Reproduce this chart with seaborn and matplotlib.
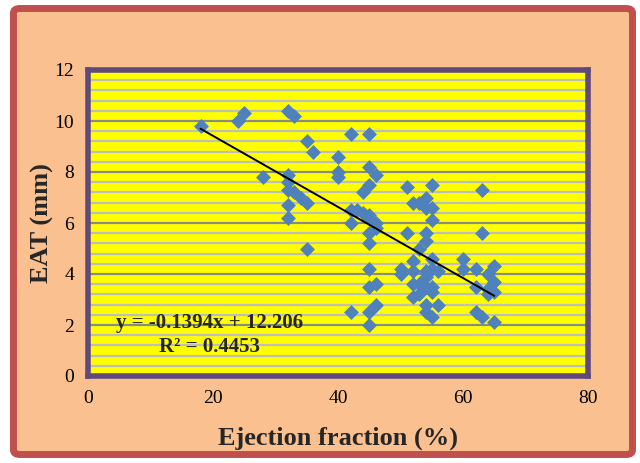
import numpy as np
import pandas as pd
import matplotlib
matplotlib.use("Agg")
import matplotlib.pyplot as plt
from matplotlib.patches import FancyBboxPatch
from matplotlib.ticker import MultipleLocator
import seaborn as sns

# values
ejection_fraction = [18, 24, 25, 28, 32, 33, 32, 32, 32, 33, 34, 35, 32, 32, 35, 36, 35,
                     40, 40, 40, 42, 45, 45, 46, 45, 44, 42, 43, 44, 42, 45, 45, 46, 46,
                     45, 45, 45, 45, 46, 46, 45, 45, 42, 51, 55, 63, 52, 53, 54, 54, 55,
                     55, 54, 51, 63, 54, 53, 60, 55, 52, 50, 50, 60, 62, 65, 64, 65, 52,
                     54, 55, 56, 54, 52, 53, 55, 52, 53, 55, 62, 64, 64, 65, 56, 54, 54,
                     55, 62, 63, 65, 54]
eat_mm = [9.8, 10.0, 10.3, 7.8, 10.4, 10.2, 7.9, 7.6, 7.3, 7.2, 7.0, 6.8, 6.7, 6.2, 9.2, 8.8, 5.0,
          8.6, 8.0, 7.8, 9.5, 9.5, 8.2, 7.9, 7.5, 7.2, 6.5, 6.5, 6.4, 6.0, 6.3, 6.2, 6.0, 5.8,
          5.6, 5.2, 4.2, 3.5, 3.6, 2.8, 2.5, 2.0, 2.5, 7.4, 7.5, 7.3, 6.8, 6.8, 7.0, 6.6, 6.6,
          6.1, 5.6, 5.6, 5.6, 5.3, 5.0, 4.6, 4.6, 4.5, 4.2, 4.0, 4.2, 4.2, 4.3, 4.0, 3.7, 4.1,
          4.1, 4.2, 4.1, 3.9, 3.6, 3.6, 3.5, 3.1, 3.2, 3.3, 3.5, 3.4, 3.2, 3.3, 2.8, 2.8, 2.5,
          2.3, 2.5, 2.3, 2.1, 3.5]

# trendline as printed on the chart
slope = -0.1394
intercept = 12.206
r_squared = 0.4453

x_ticks = [0, 20, 40, 60, 80]
y_ticks = [0, 2, 4, 6, 8, 10, 12]

df = pd.DataFrame({"EF": ejection_fraction, "EAT": eat_mm})

sns.set_style("white")
plt.rcParams["font.family"] = ["Liberation Serif", "DejaVu Serif"]

fig = plt.figure(figsize=(6.4, 4.63), dpi=100)
fig.patch.set_facecolor("white")

# outer rounded frame
frame = FancyBboxPatch((13.5 / 640, 8.5 / 463), 619 / 640, 446 / 463,
                       boxstyle="round,pad=0,rounding_size=0.01",
                       transform=fig.transFigure, facecolor="#FAC090",
                       edgecolor="#C0504D", linewidth=5, zorder=-1)
fig.patches.append(frame)

ax = fig.add_axes([88 / 640, 87 / 463, 500 / 640, 306 / 463])
ax.set_facecolor("#FFFF00")

sns.scatterplot(data=df, x="EF", y="EAT", marker="D", s=58, color="#4F81BD",
                linewidth=0, ax=ax, zorder=3)

xs = np.array([min(ejection_fraction), max(ejection_fraction)])
ax.plot(xs, slope * xs + intercept, color="black", linewidth=1.4, zorder=4)

ax.set_xlim(0, 80)
ax.set_ylim(0, 12)
ax.set_xticks(x_ticks)
ax.set_yticks(y_ticks)
ax.yaxis.set_minor_locator(MultipleLocator(0.4))
ax.grid(True, axis="y", which="minor", color="#BEBEBE", linewidth=1.6, zorder=1)
ax.grid(True, axis="y", which="major", color="#8A8A8A", linewidth=1.6, zorder=1)
ax.set_axisbelow(True)
ax.tick_params(axis="both", which="major", direction="out", length=4, width=1,
               color="#8A8A8A", labelsize=14, labelcolor="black", pad=6)
ax.tick_params(axis="both", which="minor", length=0)

for sp in ax.spines.values():
    sp.set_color("#604A7B")
    sp.set_linewidth(4)

ax.set_xlabel("Ejection fraction (%)", fontsize=19, fontweight="bold", labelpad=14)
ax.set_ylabel("EAT (mm)", fontsize=19, fontweight="bold", labelpad=0)

eq = "y = %.4fx + %.3f\nR\u00b2 = %.4f" % (slope, intercept, r_squared)
ax.text(19.4, 1.62, eq, fontsize=15, fontweight="bold", ha="center", va="center",
        multialignment="center", linespacing=1.25, zorder=5)

fig.savefig("out.png", dpi=100)
